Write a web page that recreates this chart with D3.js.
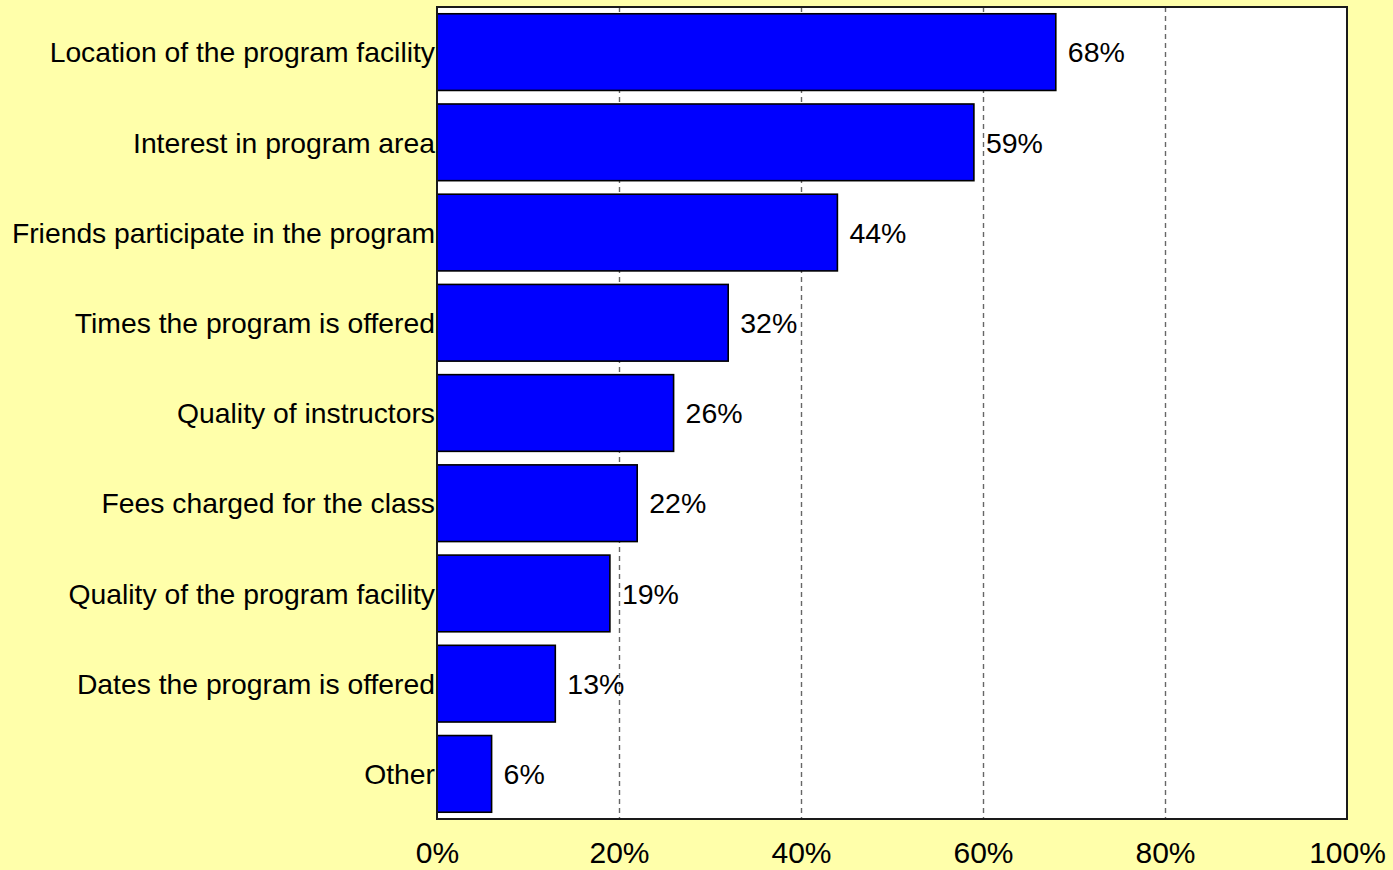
<!DOCTYPE html>
<html>
<head>
<meta charset="utf-8">
<script src="https://cdn.jsdelivr.net/npm/d3@7"></script>
<style>
  html, body { margin: 0; padding: 0; background: #ffffaa; }
  svg { display: block; }
  text { font-family: "Liberation Sans", Arial, sans-serif; fill: #000; }
</style>
</head>
<body>
<svg id="chart" width="1393" height="870"></svg>
<script>
// Reasons for choosing a program, share of respondents
const categories = [
  "Location of the program facility",
  "Interest in program area",
  "Friends participate in the program",
  "Times the program is offered",
  "Quality of instructors",
  "Fees charged for the class",
  "Quality of the program facility",
  "Dates the program is offered",
  "Other"
];
const values = [68, 59, 44, 32, 26, 22, 19, 13, 6];
const tickValues = [0, 20, 40, 60, 80, 100];
const gridValues = [20, 40, 60, 80];

const svg = d3.select("#chart");
const plot = { left: 437, right: 1347, top: 7, bottom: 819 };

const x = d3.scaleLinear().domain([0, 100]).range([plot.left, plot.right]);
const y = d3.scaleBand().domain(categories).range([plot.top, plot.bottom])
  .paddingInner(0.15).paddingOuter(0.075);

// plot background
svg.append("rect")
  .attr("x", plot.left).attr("y", plot.top)
  .attr("width", plot.right - plot.left).attr("height", plot.bottom - plot.top)
  .attr("fill", "#ffffff");

// dashed vertical gridlines
svg.append("g").selectAll("line").data(gridValues).join("line")
  .attr("x1", d => Math.round(x(d)) + 0.5).attr("x2", d => Math.round(x(d)) + 0.5)
  .attr("y1", plot.top).attr("y2", plot.bottom)
  .attr("stroke", "#666666").attr("stroke-width", 1.4)
  .attr("stroke-dasharray", "5,4");

// bars
svg.append("g").selectAll("rect").data(values).join("rect")
  .attr("x", x(0))
  .attr("y", (d, i) => y(categories[i]))
  .attr("width", d => x(d) - x(0))
  .attr("height", y.bandwidth())
  .attr("fill", "#0000ff")
  .attr("stroke", "#000").attr("stroke-width", 1.6);

// value labels
svg.append("g").selectAll("text").data(values).join("text")
  .attr("x", d => x(d) + 12)
  .attr("y", (d, i) => y(categories[i]) + y.bandwidth() / 2)
  .attr("dy", "0.36em")
  .attr("font-size", 28.5)
  .text(d => d + "%");

// plot frame
svg.append("rect")
  .attr("x", plot.left).attr("y", plot.top)
  .attr("width", plot.right - plot.left).attr("height", plot.bottom - plot.top)
  .attr("fill", "none").attr("stroke", "#1a1a1a").attr("stroke-width", 2);

// category axis
const yAxis = svg.append("g")
  .attr("transform", `translate(${plot.left - 2},0)`)
  .call(d3.axisLeft(y).tickSize(0).tickPadding(0));
yAxis.select(".domain").remove();
yAxis.selectAll("text")
  .attr("font-size", 28.3)
  .attr("font-family", "'Liberation Sans', Arial, sans-serif")
  .attr("dy", "0.36em")
  .attr("fill", "#000");

// value axis
const xAxis = svg.append("g")
  .attr("transform", `translate(0,${plot.bottom})`)
  .call(d3.axisBottom(x).tickValues(tickValues).tickFormat(d => d + "%").tickSize(0).tickPadding(0));
xAxis.select(".domain").remove();
xAxis.selectAll("text")
  .attr("font-size", 30)
  .attr("font-family", "'Liberation Sans', Arial, sans-serif")
  .attr("y", 44)
  .attr("dy", 0)
  .attr("fill", "#000");
</script>
</body>
</html>
